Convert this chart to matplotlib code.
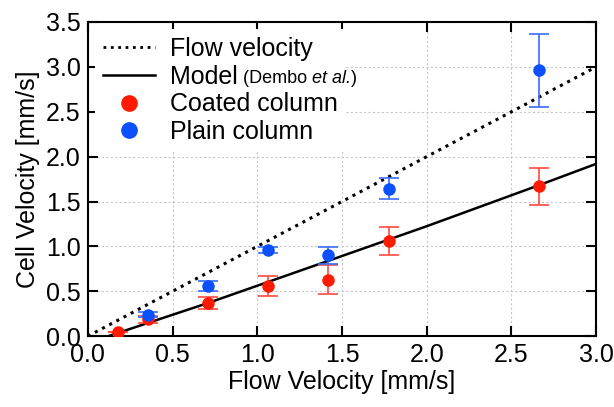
import numpy as np
import matplotlib.pyplot as plt
from matplotlib.lines import Line2D

plt.rcParams['font.family'] = ['Liberation Sans', 'DejaVu Sans']

# coated column (red)
coated_x = [0.18, 0.355, 0.71, 1.065, 1.42, 1.775, 2.66]
coated_y = [0.05, 0.19, 0.37, 0.56, 0.63, 1.06, 1.67]
coated_err = [0.0, 0.04, 0.065, 0.115, 0.165, 0.155, 0.205]

# plain column (blue)
plain_x = [0.355, 0.71, 1.065, 1.42, 1.775, 2.66]
plain_y = [0.24, 0.56, 0.96, 0.90, 1.645, 2.96]
plain_err = [0.03, 0.06, 0.037, 0.093, 0.12, 0.41]

# model (Dembo et al.)
model_x = [0.12, 0.71, 1.42, 2.0, 2.66, 3.0]
model_y = [0.0, 0.37, 0.84, 1.225, 1.68, 1.92]

# flow velocity
flow_x = [0.0, 3.0]
flow_y = [0.0, 3.0]

red = '#ff1a00'
blue = '#0a50ff'

fig = plt.figure(figsize=(6.14, 4.07), dpi=100)
ax = fig.add_axes([0.143, 0.174, 0.828, 0.772])

ax.plot(flow_x, flow_y, ':', color='black', lw=2.2, zorder=3)
ax.plot(model_x, model_y, '-', color='black', lw=1.8, zorder=3)
ax.errorbar(coated_x, coated_y, yerr=coated_err, fmt='o', color=red, ecolor='#ff4a40',
            ms=8, elinewidth=1.2, capsize=7, capthick=1.2, zorder=4)
ax.errorbar(plain_x, plain_y, yerr=plain_err, fmt='o', color=blue, ecolor='#3a6cff',
            ms=8, elinewidth=1.2, capsize=7, capthick=1.2, zorder=4)

ax.set_xlim(0, 3.0)
ax.set_ylim(0, 3.5)
ax.set_xticks(np.arange(0, 3.01, 0.5))
ax.set_yticks(np.arange(0, 3.51, 0.5))
ax.grid(True, color='#c8c8c8', ls=(0, (2, 2)), lw=0.8)
ax.set_axisbelow(True)
ax.tick_params(direction='in', length=7, width=1.5, labelsize=18, top=True, right=True, pad=5)
for s in ax.spines.values():
    s.set_linewidth(1.5)

ax.set_xlabel('Flow Velocity [mm/s]', fontsize=18, labelpad=2)
ax.set_ylabel('Cell Velocity [mm/s]', fontsize=18, labelpad=4)

handles = [
    Line2D([], [], ls=':', color='black', lw=2.0),
    Line2D([], [], ls='-', color='black', lw=1.8),
    Line2D([], [], ls='none', marker='o', color=red, ms=11),
    Line2D([], [], ls='none', marker='o', color=blue, ms=11),
]
labels = ['Flow velocity', 'Model', 'Coated column', 'Plain column']
leg = ax.legend(handles, labels, loc='upper left', fontsize=18, frameon=True, framealpha=1,
                edgecolor='none', handlelength=2.1, handletextpad=0.6,
                labelspacing=0.15, borderpad=0.3, borderaxespad=0.3)
leg.set_zorder(5)

# smaller "(Dembo et al.)" after the Model label
fig.canvas.draw()
t = leg.get_texts()[1]
bb = t.get_window_extent().transformed(ax.transAxes.inverted())
ym = (bb.y0 + bb.y1) / 2 - 0.005
parts = [('(Dembo ', 'normal'), ('et al.', 'italic'), (')', 'normal')]
x0 = bb.x1 + 0.01
for txt, st in parts:
    tt = ax.text(x0, ym, txt, fontsize=13, style=st, transform=ax.transAxes,
                 va='center', zorder=6)
    fig.canvas.draw()
    x0 = tt.get_window_extent().transformed(ax.transAxes.inverted()).x1

fig.savefig('out.png', dpi=100)
